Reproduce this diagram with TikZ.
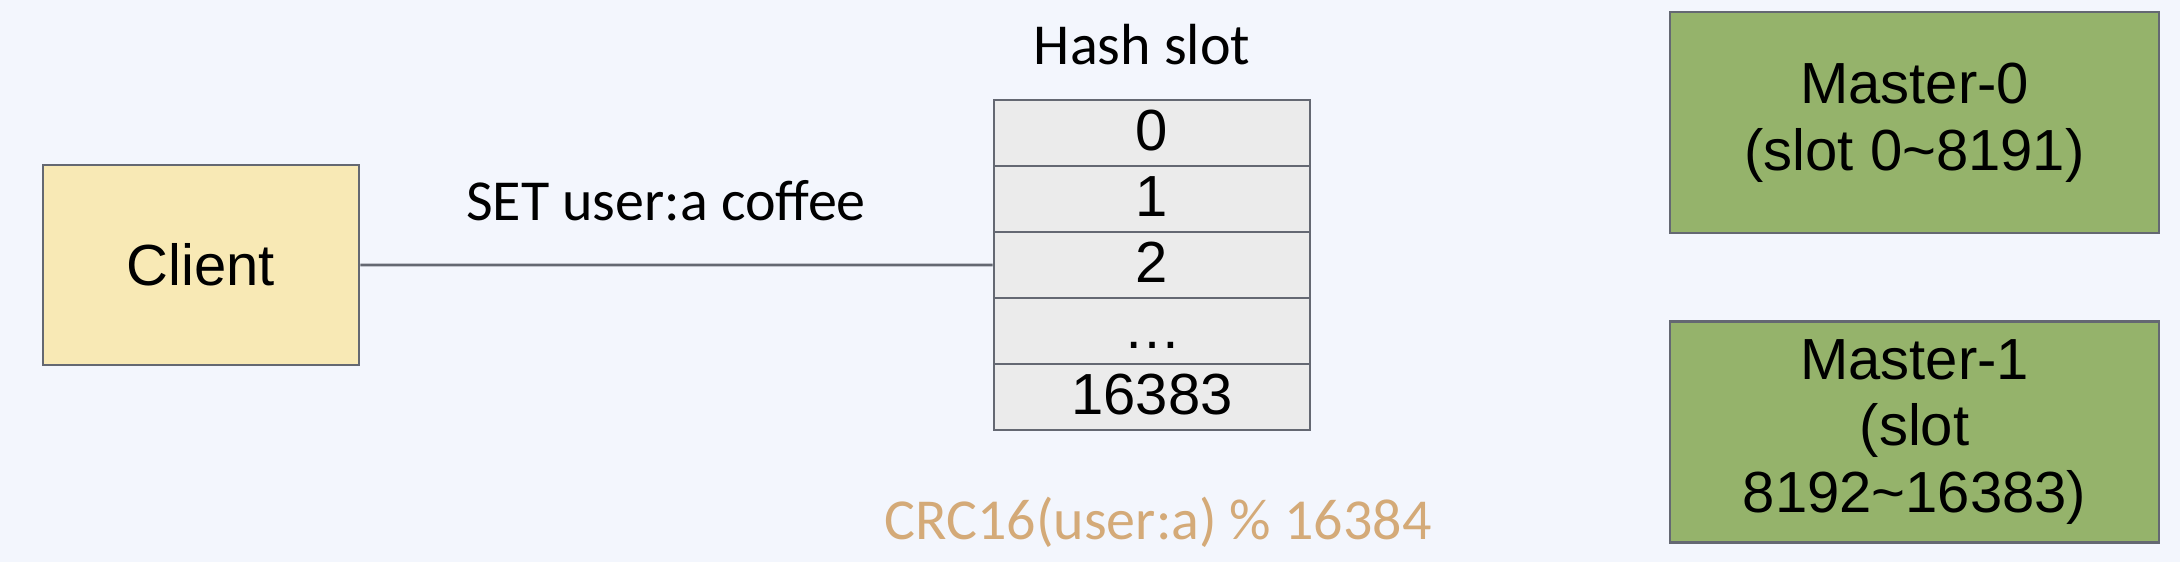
\documentclass[tikz,border=0pt]{standalone}
\usepackage{fontspec}
\setmainfont{Liberation Sans}
\newfontfamily\calibri{Carlito}
\definecolor{bgcol}{RGB}{243,246,253}
\definecolor{clientcol}{RGB}{248,233,181}
\definecolor{slotcol}{RGB}{235,235,235}
\definecolor{mastercol}{RGB}{149,179,107}
\definecolor{crccol}{RGB}{212,170,120}
\definecolor{edgecol}{RGB}{100,104,114}

\begin{document}
\begin{tikzpicture}[font=\fontsize{16.5}{19}\selectfont,
			box/.style={draw=edgecol, line width=0.8pt, align=center, inner sep=0pt},
			slotbox/.style={box, fill=slotcol, minimum width=3.16cm, minimum height=0.66cm, text height=0.42cm, text depth=0.08cm},
			master/.style={box, fill=mastercol, minimum width=4.89cm, minimum height=2.21cm},
			note/.style={font=\calibri\fontsize{16.5}{19}\selectfont, anchor=base}]
			\fill[bgcol] (0,0) rectangle (21.8,5.62);
			\useasboundingbox (0,0) rectangle (21.8,5.62);
			\node[box, fill=clientcol, minimum width=3.16cm, minimum height=2cm] (client) at (2.01,2.97) {Client};
			\foreach \txt [count=\i from 0] in {0,1,2,\ldots,16383}
				\node[slotbox] (slot\i) at (11.52,4.29-0.66*\i) {\txt};
			\node[note] (hash) at (11.42,4.98) {Hash slot};
			\node[note] (cmd) at (6.66,3.42) {SET user:a coffee};
			\node[note, text=crccol] (crc) at (11.58,0.23) {CRC16(user:a) \% 16384};
			\node[master] (m0) at (19.145,4.395) {Master-0\\(slot 0\textasciitilde8191)};
			\node[master] (m1) at (19.145,1.30) {Master-1\\(slot\\8192\textasciitilde16383)};
			\draw[edgecol, line width=0.8pt] (client.east) -- (slot2.west);
		\end{tikzpicture}
\end{document}
